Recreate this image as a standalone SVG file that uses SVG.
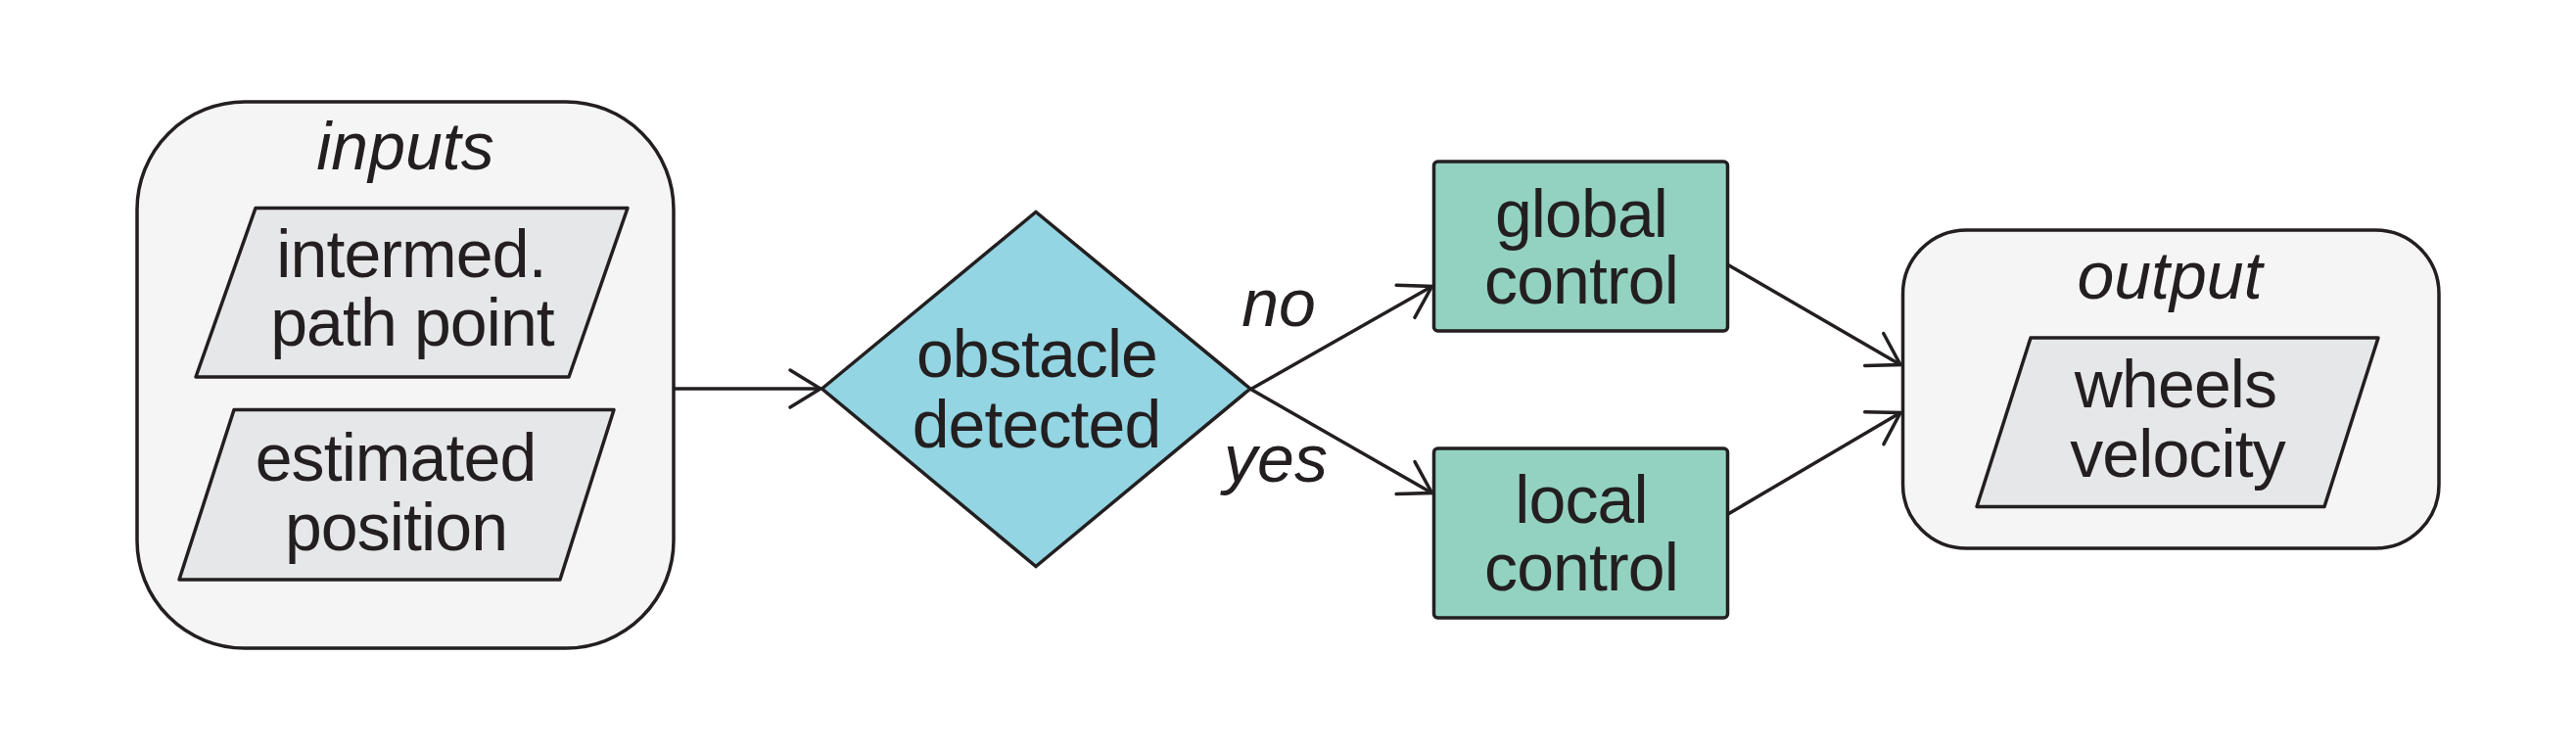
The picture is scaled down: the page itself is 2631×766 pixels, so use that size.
<svg xmlns="http://www.w3.org/2000/svg" width="2631" height="766" viewBox="0 0 2631 766">
<style>
.t{font-family:"Liberation Sans",Arial,sans-serif;font-size:68px;fill:#231f20;text-anchor:middle;letter-spacing:-0.9px}
.i{font-style:italic;letter-spacing:0}
.box{fill:#f5f5f5;stroke:#231f20;stroke-width:3.5}
.para{fill:#e6e7e8;stroke:#231f20;stroke-width:3.5;stroke-linejoin:round}
.dec{fill:#93d5e2;stroke:#231f20;stroke-width:3.5}
.proc{fill:#93d2c0;stroke:#231f20;stroke-width:3.5}
.edge{fill:none;stroke:#231f20;stroke-width:3.5}
</style>
<defs>
<marker id="arr" markerUnits="userSpaceOnUse" markerWidth="50" markerHeight="50" viewBox="-40 -25 45 50" refX="0" refY="0" orient="auto">
<path d="M-31,-19 L0,0 L-31,19" fill="none" stroke="#231f20" stroke-width="3.5" stroke-linecap="round" stroke-linejoin="miter"/>
</marker>
</defs>
<rect width="2631" height="766" fill="#ffffff"/>

<g id="inputs">
<rect class="box" x="140" y="104" width="548" height="558" rx="110" ry="110"/>
<text class="t i" x="414" y="173">inputs</text>
</g>
<g id="path-point">
<polygon class="para" points="261,212.5 641,212.5 581,385 200,385"/>
<text class="t" x="420" y="283">intermed.</text>
<text class="t" x="421" y="353">path point</text>
</g>
<g id="estimated-position">
<polygon class="para" points="239,418.5 627,418.5 572,592 183,592"/>
<text class="t" x="404" y="491">estimated</text>
<text class="t" x="404.5" y="562">position</text>
</g>

<g id="obstacle-detected">
<polygon class="dec" points="839.5,397 1058,216.5 1277,397 1058,578.5"/>
<text class="t" x="1059" y="385">obstacle</text>
<text class="t" x="1058.5" y="456.5">detected</text>
</g>

<g id="global-control">
<rect class="proc" x="1464.5" y="165" width="300" height="173" rx="4" ry="4"/>
<text class="t" x="1615" y="241.5">global</text>
<text class="t" x="1615" y="310">control</text>
</g>

<g id="local-control">
<rect class="proc" x="1464.5" y="458" width="300" height="173" rx="4" ry="4"/>
<text class="t" x="1615" y="534">local</text>
<text class="t" x="1615" y="603">control</text>
</g>

<g id="output">
<rect class="box" x="1943.5" y="235" width="547.5" height="325" rx="65" ry="65"/>
<text class="t i" x="2216" y="305">output</text>
</g>
<g id="wheels-velocity">
<polygon class="para" points="2074,345 2429,345 2374,517.5 2019,517.5"/>
<text class="t" x="2222" y="415.5">wheels</text>
<text class="t" x="2224" y="486.5">velocity</text>
</g>

<g id="connectors">
<line class="edge" x1="688" y1="397" x2="838" y2="397" marker-end="url(#arr)"/>
<line class="edge" x1="1277.5" y1="397.5" x2="1462.5" y2="292.5" marker-end="url(#arr)"/>
<line class="edge" x1="1277.5" y1="397.5" x2="1462.5" y2="503.5" marker-end="url(#arr)"/>
<line class="edge" x1="1765" y1="270.5" x2="1941" y2="372.5" marker-end="url(#arr)"/>
<line class="edge" x1="1765" y1="525" x2="1941" y2="421.5" marker-end="url(#arr)"/>
<text class="t i" x="1306" y="333">no</text>
<text class="t i" x="1303" y="492">yes</text>
</g>
</svg>
